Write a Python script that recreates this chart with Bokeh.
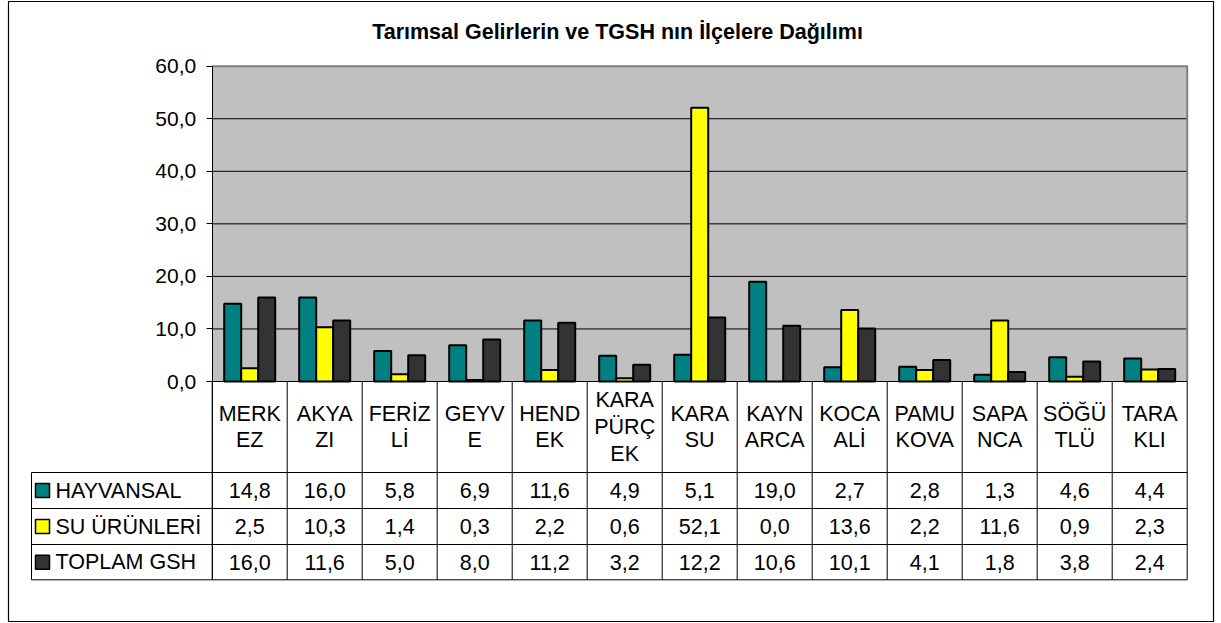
from bokeh.plotting import figure
from bokeh.models import Range1d, LinearAxis, FixedTicker, CustomJSTickFormatter
from bokeh.core.properties import value
from bokeh.embed import file_html
from bokeh.resources import INLINE

# ---------------- data ----------------
title_text = "Tarımsal Gelirlerin ve TGSH nın İlçelere Dağılımı"
categories = ["MERK\nEZ", "AKYA\nZI", "FERİZ\nLİ", "GEYV\nE", "HEND\nEK", "KARA\nPÜRÇ\nEK",
              "KARA\nSU", "KAYN\nARCA", "KOCA\nALİ", "PAMU\nKOVA", "SAPA\nNCA", "SÖĞÜ\nTLÜ", "TARA\nKLI"]
series_names = ["HAYVANSAL", "SU ÜRÜNLERİ", "TOPLAM GSH"]
hayvansal = [14.8, 16.0, 5.8, 6.9, 11.6, 4.9, 5.1, 19.0, 2.7, 2.8, 1.3, 4.6, 4.4]
su_urunleri = [2.5, 10.3, 1.4, 0.3, 2.2, 0.6, 52.1, 0.0, 13.6, 2.2, 11.6, 0.9, 2.3]
toplam_gsh = [16.0, 11.6, 5.0, 8.0, 11.2, 3.2, 12.2, 10.6, 10.1, 4.1, 1.8, 3.8, 2.4]
y_ticks = [0, 10, 20, 30, 40, 50, 60]

# ---------------- styles / layout (page pixels) ----------------
colors = ["#008080", "#FFFF00", "#333333"]
FONT = "Liberation Sans"
W, H = 1216, 622
FRAME_L, FRAME_R, FRAME_T, FRAME_B = 8, 1213, 1, 621
PLOT_LEFT = 211.7
COL_W = 75.0
ZERO_Y = 381.0
UNIT_Y = 315.3 / 60.0
BAR_W = 17.0 / COL_W
ROW_EDGES = [472.0, 508.0, 544.0, 579.3]
HEADER_MID = 426.5
LEGEND_LEFT = 31.0
TABLE_FS = "21.5px"


def X(px):
    return (px - PLOT_LEFT) / COL_W - 0.5


def Y(py):
    return (ZERO_Y - py) / UNIT_Y


n = len(categories)
left, right = -0.5, n - 0.5
ytop = y_ticks[-1]
series = [hayvansal, su_urunleri, toplam_gsh]

p = figure(width=W, height=H, output_backend="svg", toolbar_location=None,
           x_range=Range1d(X(FRAME_L), X(FRAME_R)), y_range=Range1d(Y(FRAME_B), Y(FRAME_T)),
           x_axis_location=None, y_axis_location=None,
           min_border_left=FRAME_L, min_border_right=W - FRAME_R,
           min_border_top=FRAME_T, min_border_bottom=H - FRAME_B)
p.background_fill_color = "white"
p.border_fill_color = "white"
p.outline_line_color = "black"
p.outline_line_width = 1.2
p.grid.visible = False

# plot area background
p.quad(left=[left], right=[right], bottom=[0], top=[ytop], fill_color="#C0C0C0", line_color=None)
# grid lines
grid_vals = [t for t in y_ticks if 0 < t < ytop]
p.segment(x0=[left] * len(grid_vals), y0=grid_vals, x1=[right] * len(grid_vals), y1=grid_vals,
          line_color="black", line_width=1)
# plot area frame (top / right)
p.line(x=[left, right, right], y=[ytop, ytop, 0], line_color="#808080", line_width=2)

# bars
for k, (vals, c) in enumerate(zip(series, colors)):
    xs = [i + (k - 1) * BAR_W for i in range(n)]
    p.vbar(x=xs, top=vals, bottom=0, width=BAR_W, fill_color=c, line_color="black", line_width=2)

# table lines
y_bottom = Y(ROW_EDGES[-1])
vx = [i - 0.5 for i in range(n + 1)]
p.segment(x0=vx, y0=[0] * len(vx), x1=vx, y1=[y_bottom] * len(vx), line_color="black", line_width=1)
p.segment(x0=[left], y0=[0], x1=[right], y1=[0], line_color="black", line_width=1)
ry = [Y(r) for r in ROW_EDGES]
p.segment(x0=[X(LEGEND_LEFT)] * len(ry), y0=ry, x1=[right] * len(ry), y1=ry, line_color="black", line_width=1)
p.segment(x0=[X(LEGEND_LEFT)], y0=[ry[0]], x1=[X(LEGEND_LEFT)], y1=[y_bottom], line_color="black", line_width=1)

# header labels
p.text(x=list(range(n)), y=[Y(HEADER_MID)] * n, text=categories, text_align="center",
       text_baseline="middle", text_font=value(FONT), text_font_size=TABLE_FS, text_line_height=1.12,
       text_color="black")

# value rows + legend
row_mid = [Y((ROW_EDGES[r] + ROW_EDGES[r + 1]) / 2) for r in range(3)]
for r, vals in enumerate(series):
    labels = [f"{v:.1f}".replace(".", ",") for v in vals]
    p.text(x=list(range(n)), y=[row_mid[r]] * n, text=labels, text_align="center",
           text_baseline="middle", text_font=value(FONT), text_font_size=TABLE_FS, text_color="black")
p.scatter(x=[X(42)] * 3, y=row_mid, marker="square", size=14, fill_color=colors,
          line_color="black", line_width=1.5)
p.text(x=[X(55)] * 3, y=row_mid, text=series_names, text_align="left", text_baseline="middle",
       text_font=value(FONT), text_font_size=TABLE_FS, text_color="black")

# title
p.text(x=[X(617)], y=[Y(31.5)], text=[title_text], text_align="center", text_baseline="middle",
       text_font=value(FONT), text_font_size="21.5px", text_font_style="bold", text_color="black")

# y axis
ax = LinearAxis(fixed_location=left, bounds=(y_bottom, ytop), ticker=FixedTicker(ticks=y_ticks),
                formatter=CustomJSTickFormatter(code="return tick.toFixed(1).replace('.', ',');"),
                major_tick_out=6, major_tick_in=0, minor_tick_out=0, minor_tick_in=0,
                axis_line_color="black", major_tick_line_color="black",
                major_label_text_font=FONT, major_label_text_font_size="21px",
                major_label_standoff=10, major_label_text_color="black")
p.add_layout(ax, "left")

open("out.html", "w", encoding="utf-8").write(file_html(p, INLINE))
